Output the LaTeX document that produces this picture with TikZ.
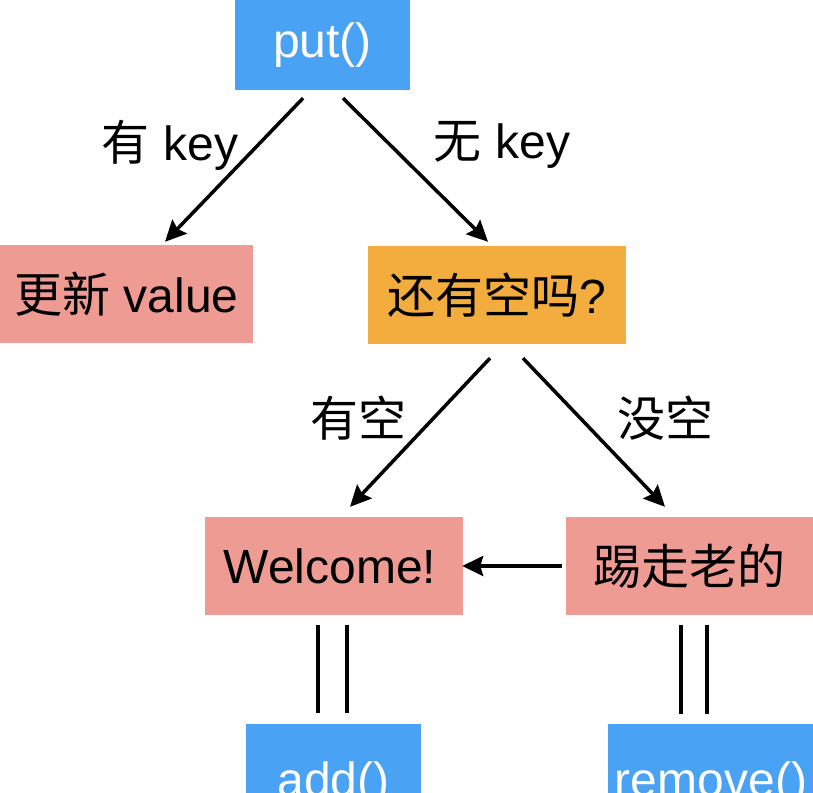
\documentclass[tikz,border=0pt]{standalone}
\usepackage{fontspec}
\setmainfont{Liberation Sans}
\newfontfamily\cjk{Noto Sans CJK SC}
\usetikzlibrary{arrows.meta}
\definecolor{boxblue}{RGB}{74,162,245}
\definecolor{boxsalmon}{RGB}{238,155,147}
\definecolor{boxorange}{RGB}{242,173,62}
\tikzset{
  box/.style={rectangle, inner sep=0pt, font=\fontsize{48}{52}\selectfont},
  bluebox/.style={box, fill=boxblue, text=white},
  pinkbox/.style={box, fill=boxsalmon, text=black},
  orangebox/.style={box, fill=boxorange, text=black},
  lbl/.style={font=\fontsize{48}{52}\selectfont, text=black},
  arr/.style={line width=3.5pt, -{Stealth[length=21pt,width=20pt,inset=3pt]}},
  eqline/.style={line width=4pt},
}
\begin{document}
\begin{tikzpicture}[x=1pt,y=-1pt]
\useasboundingbox (0,0) rectangle (813,792);
\clip (0,0) rectangle (813,792);
\fill[white] (0,0) rectangle (813,792);
\node[bluebox, minimum width=175pt, minimum height=90pt] (put) at (322.5,45) {put()};
\node[pinkbox, minimum width=253pt, minimum height=98pt] (upd) at (126.5,294) {{\cjk 更新} value};
\node[orangebox, minimum width=258pt, minimum height=98pt] (ask) at (497,295) {{\cjk 还有空吗}?};
\node[pinkbox, minimum width=258pt, minimum height=98pt] (wel) at (334,566) {Welcome!\hspace*{8pt}};
\node[pinkbox, minimum width=247pt, minimum height=98pt] (kick) at (689.5,566) {\cjk 踢走老的};
\node[bluebox, minimum width=175pt, minimum height=120pt] (add) at (333.5,784) {add()};
\node[bluebox, minimum width=206pt, minimum height=120pt] (rem) at (711,784) {remove()};

\draw[arr] ([xshift=-19.5pt,yshift=-8pt]put.south) -- ([xshift=38.5pt,yshift=3pt]upd.north);
\draw[arr] ([xshift=20.5pt,yshift=-8pt]put.south) -- ([xshift=-9pt,yshift=4pt]ask.north);
\draw[arr] ([xshift=-7pt,yshift=-14pt]ask.south) -- ([xshift=16pt,yshift=10pt]wel.north);
\draw[arr] ([xshift=26pt,yshift=-14pt]ask.south) -- ([xshift=-24.5pt,yshift=10pt]kick.north);
\draw[arr] ([xshift=-4pt]kick.west) -- ([xshift=-1pt]wel.east);

\node[lbl] (l1) at (170,145) {{\cjk 有} key};
\node[lbl] (l2) at (502,145) {{\cjk 无} key};
\node[lbl] (l3) at (358,418) {\cjk 有空};
\node[lbl] (l4) at (665,418) {\cjk 没空};

\draw[eqline] ([xshift=-16pt,yshift=-10pt]wel.south) -- ([xshift=-15.5pt,yshift=11pt]add.north);
\draw[eqline] ([xshift=13pt,yshift=-10pt]wel.south) -- ([xshift=13.5pt,yshift=11pt]add.north);
\draw[eqline] ([xshift=-8.5pt,yshift=-10pt]kick.south) -- ([xshift=-30pt,yshift=10pt]rem.north);
\draw[eqline] ([xshift=17.5pt,yshift=-10pt]kick.south) -- ([xshift=-4pt,yshift=10pt]rem.north);
\end{tikzpicture}
\end{document}
